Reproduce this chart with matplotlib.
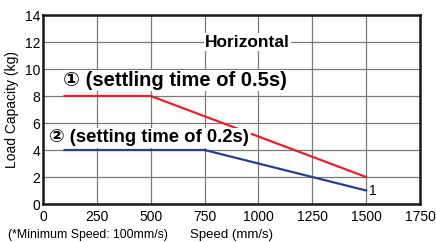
import matplotlib
matplotlib.use('Agg')
import matplotlib.pyplot as plt

# data
speed_05 = [100, 500, 1500]
load_05 = [8, 8, 2]
speed_02 = [100, 750, 1500]
load_02 = [4, 4, 1]
xticks = [0, 250, 500, 750, 1000, 1250, 1500, 1750]
yticks = [0, 2, 4, 6, 8, 10, 12, 14]

fam = ['Liberation Sans', 'DejaVu Sans']

fig = plt.figure(figsize=(4.36, 2.42), dpi=100)
ax = fig.add_axes([0.0986, 0.157, 0.8647, 0.781])

ax.plot(speed_05, load_05, color='#e8202a', lw=1.6, zorder=3)
ax.plot(speed_02, load_02, color='#283f8f', lw=1.6, zorder=3)

ax.set_xlim(0, 1750)
ax.set_ylim(0, 14)
ax.set_xticks(xticks)
ax.set_yticks(yticks)
ax.grid(True, color='#7a7a7a', lw=0.9)
ax.set_axisbelow(True)
for s in ax.spines.values():
    s.set_linewidth(1.8)
    s.set_color('#1a1a1a')
ax.tick_params(length=0)
ax.tick_params(axis='x', pad=4)
ax.tick_params(axis='y', pad=2)
for lab in ax.get_xticklabels() + ax.get_yticklabels():
    lab.set_family(fam)
    lab.set_fontsize(10)

box = dict(facecolor='white', edgecolor='none', pad=1)
ax.text(950, 12, 'Horizontal', ha='center', va='center', fontsize=12.5,
        fontweight='bold', family=fam, bbox=box, zorder=4)
ax.text(95, 9.15, '\u2460 (settling time of 0.5s)', ha='left', va='center',
        fontsize=14.5, fontweight='bold', family=fam, bbox=box, zorder=4)
ax.text(30, 4.9, '\u2461 (setting time of 0.2s)', ha='left', va='center',
        fontsize=13.3, fontweight='bold', family=fam, bbox=box, zorder=4)
ax.text(1515, 0.95, '1', ha='left', va='center', fontsize=10, family=fam, zorder=4)

ax.set_ylabel('Load Capacity (kg)', family=fam, fontsize=10, labelpad=4)
fig.text(0.532, 0.03, 'Speed (mm/s)', ha='center', va='center', family=fam, fontsize=9.5)
fig.text(0.018, 0.03, '(*Minimum Speed: 100mm/s)', ha='left', va='center',
         family=fam, fontsize=8.8)

fig.savefig('out.png', dpi=100)
